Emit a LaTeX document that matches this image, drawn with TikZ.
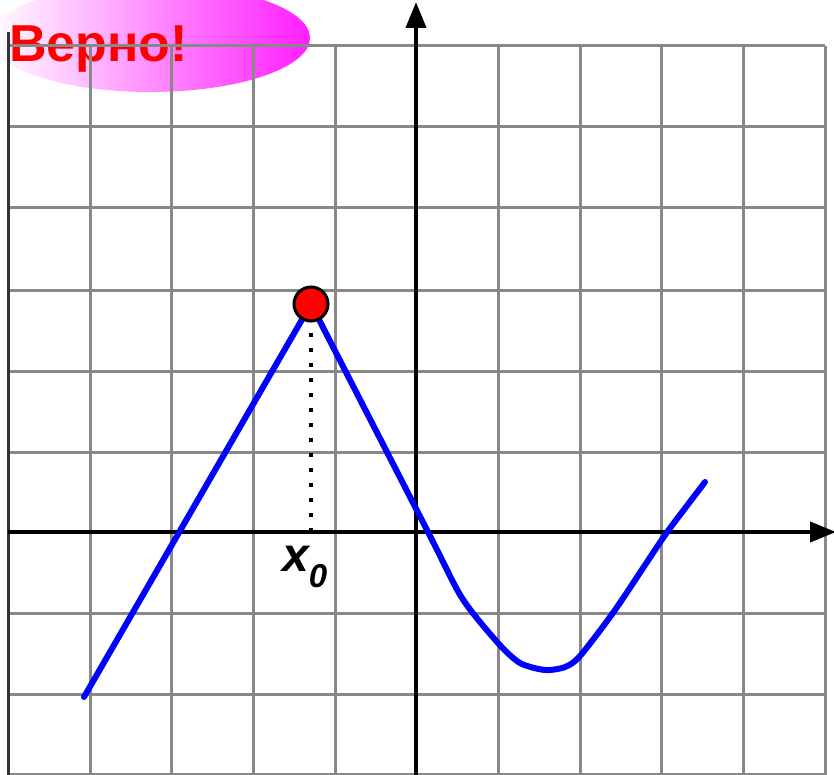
\documentclass[tikz,border=0pt]{standalone}
\usepackage{fontspec}
\setmainfont{Liberation Sans}
\usetikzlibrary{arrows.meta}
\definecolor{gridgray}{RGB}{136,136,136}
\definecolor{magentab}{RGB}{255,30,255}
\definecolor{magentam}{RGB}{255,120,255}
\tikzset{
  gridline/.style={draw=gridgray,line width=3pt},
  axisline/.style={draw=black,line width=4pt,-{Triangle[length=26pt,width=20pt]}},
  curveline/.style={draw=blue,line width=6pt,line cap=round,line join=round},
}
\begin{document}
\begin{tikzpicture}[x=1pt,y=-1pt]
\useasboundingbox (0,0) rectangle (834,775);
\clip (0,0) rectangle (834,775);
\fill[white] (0,0) rectangle (834,775);
% badge ellipse
\shade[left color=white,middle color=magentam,right color=magentab] (150,38) ellipse [x radius=160,y radius=54];
\node[anchor=base west,inner sep=0pt,text=red,font=\bfseries\fontsize{52}{60}\selectfont] (verno) at (9,62) {Верно!};
% grid
\foreach \x in {90,171.7,253.4,335.1,498.5,580.2,661.9,743.6,825.3}
  \draw[gridline] (\x,46) -- (\x,775);
\foreach \y in {46,127,208,290,371,452,613,694,774}
  \draw[gridline] (8,\y) -- (825.3,\y);
\draw[draw=black!80,line width=3pt] (8,32) -- (8,775);
% axes
\coordinate (xs) at (8,532);
\coordinate (xe) at (836,532);
\coordinate (ys) at (416,775);
\coordinate (ye) at (416,2);
\draw[axisline] (xs) -- (xe);
\draw[axisline] (ys) -- (ye);
% curve
\draw[curveline] plot[smooth,tension=0.5] coordinates {(84,697) (311,304)};
\draw[curveline] plot[smooth,tension=0.45] coordinates {(311,304) (428,532) (462,598) (498,643) (520,663) (545,670) (565,667) (580,656) (615,610) (663,538) (686,507) (705,482)};
% dotted drop line
\coordinate (foot) at (311,532);
\node[circle,fill=red,draw=black,line width=3pt,minimum size=34pt,inner sep=0pt] (pt) at (311,304) {};
\draw[black,line width=4pt,dash pattern=on 4pt off 11pt] (foot) -- (311,322);
% label
\node[anchor=base west,inner sep=0pt,font=\bfseries\itshape\fontsize{48}{52}\selectfont] (x0) at (282,571) {x\raisebox{-0.35em}{\fontsize{33}{36}\selectfont 0}};
\end{tikzpicture}
\end{document}
